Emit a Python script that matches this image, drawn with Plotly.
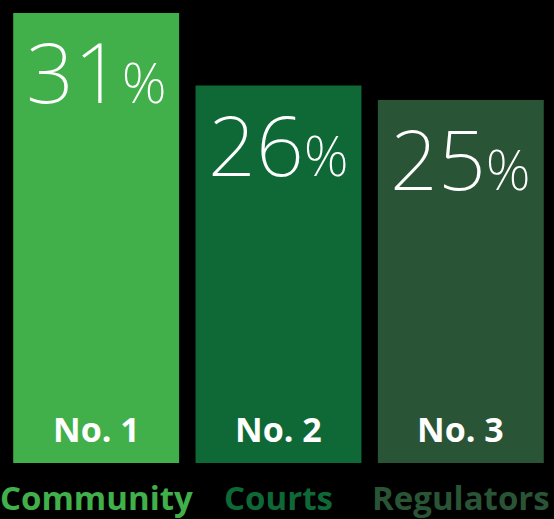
import plotly.graph_objects as go

categories = ["Community", "Courts", "Regulators"]
values = [31, 26, 25]
ranks = ["No. 1", "No. 2", "No. 3"]
colors = ["#41b04a", "#0e6937", "#295435"]

fig = go.Figure()
fig.add_trace(go.Bar(
    x=list(range(len(categories))), y=values,
    marker=dict(color=colors, line=dict(width=0)),
    hoverinfo="skip",
))

annotations = []
for i, (cat, v, r, c) in enumerate(zip(categories, values, ranks, colors)):
    annotations.append(dict(
        x=i, y=v, xref="x", yref="y", yanchor="top", xanchor="center",
        yshift=2, showarrow=False,
        text=f"{v}<span style='font-size:56px'>%</span>",
        font=dict(family="Noto Sans", size=84, color="white", weight=200),
    ))
    annotations.append(dict(
        x=i, y=0, xref="x", yref="y", yanchor="middle", xanchor="center",
        yshift=34, showarrow=False, text=r,
        font=dict(family="Open Sans", size=34, color="white", weight="bold"),
    ))
    annotations.append(dict(
        x=i, y=0, xref="x", yref="y", yanchor="middle", xanchor="center",
        yshift=-34, showarrow=False, text=cat,
        font=dict(family="Open Sans", size=33, color=c, weight="bold"),
    ))

fig.update_layout(
    width=554, height=519,
    margin=dict(l=5, r=2, t=0, b=56),
    paper_bgcolor="black", plot_bgcolor="black",
    bargap=0.09,
    showlegend=False,
    xaxis=dict(range=[-0.5, 2.5], visible=False),
    yaxis=dict(range=[0, 31.89], visible=False),
    annotations=annotations,
)

fig.write_html("out.html", config={"displayModeBar": False},
               post_script="document.body.style.margin='0';")
